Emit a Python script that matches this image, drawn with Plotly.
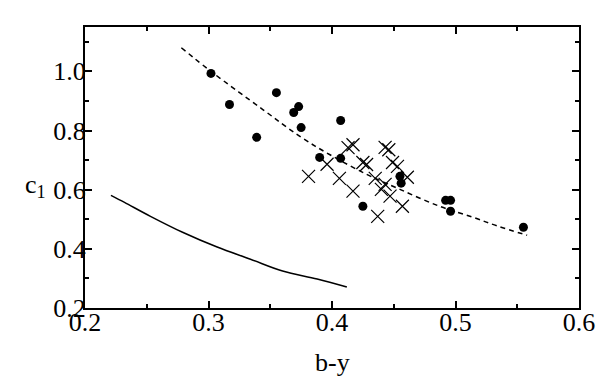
import plotly.graph_objects as go

# filled circles
circ_x = [0.302, 0.317, 0.339, 0.355, 0.369, 0.373, 0.375, 0.407, 0.390, 0.407,
          0.455, 0.456, 0.425, 0.492, 0.496, 0.496, 0.555]
circ_y = [0.993, 0.888, 0.777, 0.928, 0.861, 0.881, 0.810, 0.834, 0.709, 0.706,
          0.645, 0.622, 0.544, 0.564, 0.564, 0.527, 0.473]

# crosses
cross_x = [0.381, 0.396, 0.406, 0.413, 0.417, 0.425, 0.428, 0.443, 0.446, 0.449,
           0.453, 0.461, 0.435, 0.417, 0.440, 0.447, 0.457, 0.437, 0.443]
cross_y = [0.645, 0.686, 0.638, 0.742, 0.752, 0.692, 0.685, 0.743, 0.735, 0.692,
           0.679, 0.642, 0.638, 0.595, 0.601, 0.578, 0.544, 0.510, 0.618]

# dashed curve
dash_x = [0.278, 0.302, 0.344, 0.374, 0.398, 0.428, 0.455, 0.487, 0.514, 0.534, 0.558]
dash_y = [1.080, 1.000, 0.871, 0.780, 0.719, 0.652, 0.601, 0.544, 0.507, 0.477, 0.446]

# solid curve
solid_x = [0.221, 0.232, 0.253, 0.279, 0.307, 0.334, 0.360, 0.388, 0.412]
solid_y = [0.581, 0.557, 0.510, 0.456, 0.406, 0.365, 0.325, 0.298, 0.271]

x_ticks = [0.2, 0.3, 0.4, 0.5, 0.6]
y_ticks = [0.2, 0.4, 0.6, 0.8, 1.0]

FONT = "Liberation Serif, Times New Roman, serif"

fig = go.Figure()
fig.add_trace(go.Scatter(x=solid_x, y=solid_y, mode="lines",
                         line=dict(color="black", width=1.5, shape="spline"),
                         showlegend=False))
fig.add_trace(go.Scatter(x=dash_x, y=dash_y, mode="lines",
                         line=dict(color="black", width=1.5, dash="5px,4px", shape="spline"),
                         showlegend=False))
fig.add_trace(go.Scatter(x=cross_x, y=cross_y, mode="markers",
                         marker=dict(symbol="x-thin-open", size=13, color="black",
                                     line=dict(color="black", width=1.2)),
                         showlegend=False))
fig.add_trace(go.Scatter(x=circ_x, y=circ_y, mode="markers",
                         marker=dict(symbol="circle", size=9, color="black"),
                         showlegend=False))

axis_common = dict(showline=True, linecolor="black", linewidth=2, mirror="ticks",
                   ticks="inside", ticklen=7, tickwidth=1.5, tickcolor="black",
                   showgrid=False, zeroline=False, automargin=False,
                   tickfont=dict(family=FONT, size=26, color="black"),
                   minor=dict(ticks="inside", ticklen=4, tickwidth=1.5, tickcolor="black"))

fig.update_xaxes(range=[0.2, 0.6], tickvals=x_ticks,
                 ticktext=[f"{v:.1f}" for v in x_ticks],
                 minor_dtick=0.05, minor_tick0=0.2,
                 ticklabelstandoff=-10,
                 **axis_common)
fig.update_yaxes(range=[0.2, 1.15], tickvals=y_ticks,
                 ticktext=[f"{v:.1f}" for v in y_ticks],
                 minor_dtick=0.1, minor_tick0=0.2,
                 ticklabelstandoff=-8,
                 **axis_common)

fig.add_annotation(text="b-y", xref="paper", yref="paper", x=0.502, y=-0.195,
                   xanchor="center", yanchor="middle", showarrow=False,
                   font=dict(family=FONT, size=26, color="black"))
fig.add_annotation(text="c<sub>1</sub>", xref="paper", yref="paper", x=-0.10, y=0.435,
                   xanchor="center", yanchor="middle", showarrow=False,
                   font=dict(family=FONT, size=26, color="black"))

fig.update_layout(width=600, height=390,
                  margin=dict(l=85, r=21, t=27, b=82),
                  paper_bgcolor="white", plot_bgcolor="white")

fig.write_html("out.html", config={"displayModeBar": False},
               post_script="document.body.style.margin='0';document.body.style.overflow='hidden';")
